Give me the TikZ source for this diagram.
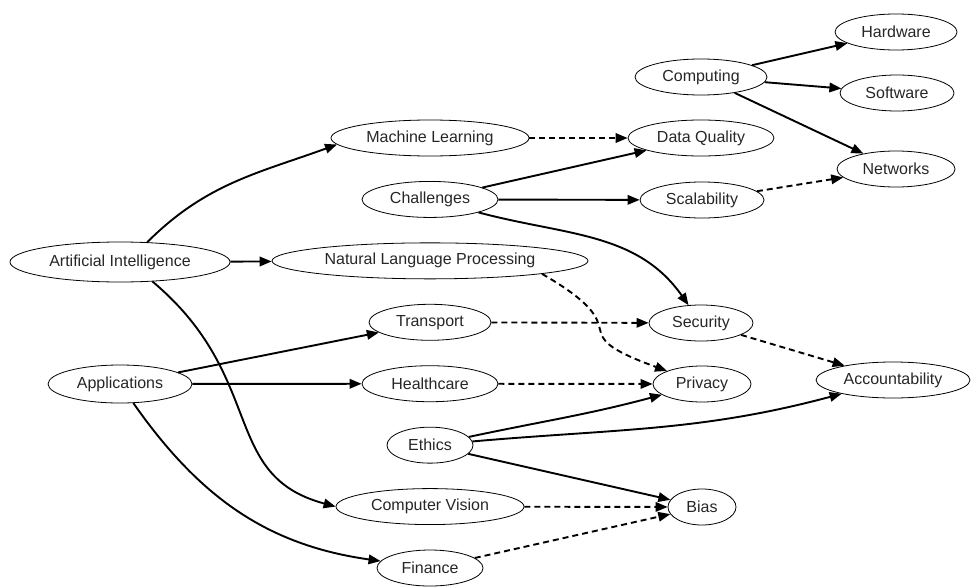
\documentclass[tikz,border=0pt]{standalone}
\usepackage{fontspec}
\setmainfont{Liberation Sans}
\usetikzlibrary{shapes,arrows.meta,positioning}

\begin{document}
\begin{tikzpicture}[x=1pt, y=1pt, node distance=61.43pt,
  topic/.style={ellipse, draw, line width=0.8pt, inner sep=0pt, minimum height=36pt, font=\fontsize{16}{18}\selectfont, text=black!85},
  link/.style={line width=1.9pt, -{Triangle[length=12pt,width=9.5pt]}},
  weak/.style={link, dash pattern=on 6pt off 4pt}]
\useasboundingbox (0,0) rectangle (971,-586);

% first rank
\node (ai) [topic, minimum width=220pt, minimum height=40pt] at (120,-262) {Artificial Intelligence};
\node (apps) [topic, minimum width=144pt, minimum height=38pt] at (120,-384) {Applications};

% second rank
\node (ml) [topic, minimum width=198pt] at (430,-138) {Machine Learning};
\node (challenges) [topic, minimum width=136pt, below of=ml] {Challenges};
\node (nlp) [topic, minimum width=316pt, below of=challenges] {Natural Language Processing};
\node (transport) [topic, minimum width=122pt, below of=nlp] {Transport};
\node (health) [topic, minimum width=136pt, below of=transport] {Healthcare};
\node (ethics) [topic, minimum width=86pt, below of=health] {Ethics};
\node (cv) [topic, minimum width=188pt, below of=ethics] {Computer Vision};
\node (finance) [topic, minimum width=106pt, below of=cv] {Finance};

% third rank
\node (computing) [topic, minimum width=132pt] at (701,-77) {Computing};
\node (quality) [topic, minimum width=146pt] at (701,-138) {Data Quality};
\node (scale) [topic, minimum width=124pt] at (702,-200) {Scalability};
\node (security) [topic, minimum width=104pt] at (701,-323) {Security};
\node (privacy) [topic, minimum width=98pt] at (702,-384) {Privacy};
\node (bias) [topic, minimum width=68pt] at (702,-507) {Bias};

% fourth rank
\node (hardware) [topic, minimum width=122pt] at (896,-32) {Hardware};
\node (software) [topic, minimum width=114pt] at (897,-93) {Software};
\node (networks) [topic, minimum width=118pt] at (896,-169) {Networks};
\node (account) [topic, minimum width=154pt] at (893,-380) {Accountability};

\draw [link] (ai.36) to[out=45,in=200] (ml.184);
\draw [link] (ai) -- (nlp);
\draw [link] (ai.-31) .. controls +(-40:150) and +(165:120) .. (cv.west);
\draw [link] (apps) -- (transport);
\draw [link] (apps) -- (health);
\draw [link] (apps) to[out=-55,in=172] (finance);

\draw [weak] (ml) -- (quality);
\draw [link] (challenges) -- (quality);
\draw [link] (challenges) -- (scale);
\draw [link] (challenges) to[out=-15,in=125] (security);
\draw [weak] (nlp.south east) .. controls +(-30:120) and +(160:120) .. (privacy.north west);
\draw [weak] (transport) -- (security);
\draw [weak] (health) -- (privacy);
\draw [link] (ethics) to[out=12,in=195] (privacy);
\draw [link] (ethics) to[out=5,in=195] (account);
\draw [link] (ethics) -- (bias);
\draw [weak] (cv) -- (bias);
\draw [weak] (finance) -- (bias);

\draw [link] (computing) -- (hardware);
\draw [link] (computing) -- (software);
\draw [link] (computing) -- (networks);
\draw [weak] (scale) -- (networks);
\draw [weak] (security) -- (account);
\end{tikzpicture}
\end{document}
